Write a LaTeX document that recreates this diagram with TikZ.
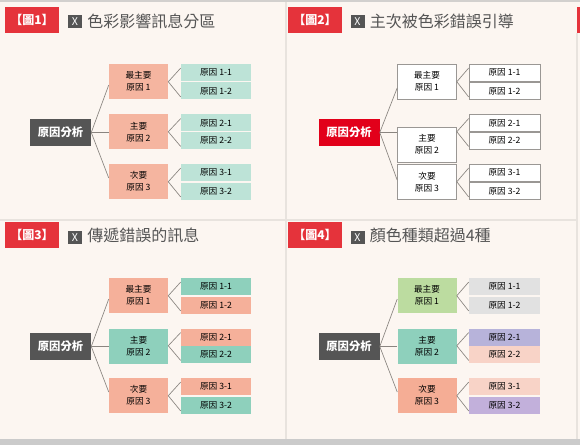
\documentclass[tikz,border=0pt]{standalone}
\usepackage{fontspec}
\setmainfont{Noto Sans CJK TC}
\usetikzlibrary{calc}
\definecolor{bg}{HTML}{FCF6F1}
\definecolor{topgray}{HTML}{D2D0CE}
\definecolor{botgray}{HTML}{CBCBCB}
\definecolor{divider}{HTML}{E8E3DE}
\definecolor{tagred}{HTML}{E5333B}
\definecolor{darkbox}{HTML}{555555}
\definecolor{titlegray}{HTML}{555555}
\definecolor{rootred}{HTML}{E2001A}
\definecolor{salmon}{HTML}{F5B5A0}
\definecolor{mint}{HTML}{BDE3D7}
\definecolor{mintedge}{HTML}{CDEAE1}
\definecolor{salmonB}{HTML}{F5B09A}
\definecolor{teal}{HTML}{8ED0BC}
\definecolor{green}{HTML}{BCDCA0}
\definecolor{salmonC}{HTML}{F5AD95}
\definecolor{lgray}{HTML}{E1E1E1}
\definecolor{lav}{HTML}{B7B3DA}
\definecolor{lpink}{HTML}{F8D3C7}
\definecolor{purple}{HTML}{C2B0DB}
\definecolor{linegray}{HTML}{8A8580}
\definecolor{boxborder}{HTML}{9A9794}
\begin{document}
\begin{tikzpicture}[x=0.75pt,y=-0.75pt,
  tagbox/.style={fill=tagred,text=white,inner sep=0pt,minimum width=54*0.75pt,minimum height=26*0.75pt,font=\fontsize{9}{10}\selectfont\bfseries},
  xbox/.style={fill=darkbox,text=white,inner sep=0pt,minimum width=14*0.75pt,minimum height=13*0.75pt,font=\fontsize{8}{9}\selectfont},
  titletext/.style={text=titlegray,inner sep=0pt,anchor=west,font=\fontsize{12}{13}\selectfont},
  rootbox/.style={fill=darkbox,text=white,inner sep=0pt,minimum width=61*0.75pt,minimum height=27*0.75pt,font=\fontsize{8.5}{9}\selectfont\bfseries},
  midbox/.style={inner sep=0pt,minimum width=59*0.75pt,minimum height=35*0.75pt,align=center,text=black,font=\fontsize{6.5}{9}\selectfont},
  leafbox/.style={inner sep=0pt,minimum width=70*0.75pt,minimum height=17*0.75pt,text=black,font=\fontsize{6.5}{8}\selectfont},
  wbox/.style={fill=white,draw=boxborder,line width=0.5pt},
  conn/.style={draw=linegray,line width=0.5pt}
]
\useasboundingbox (0,0) rectangle (580,445);
\fill[bg] (0,0) rectangle (580,445);
\fill[topgray] (0,0) rectangle (580,2);
\fill[botgray] (0,439) rectangle (580,445);
\draw[divider,line width=0.8pt] (286,2) -- (286,439);
\draw[divider,line width=0.8pt] (0,220) -- (577,220);
\draw[divider,line width=0.8pt] (577,33) -- (577,439);
\fill[tagred] (577,7) rectangle (580,33);

% ---------- Panel 1 ----------
\node[tagbox] (t1) at (32,20) {【圖1】};
\node[xbox] (x1) at (75,22) {X};
\node[titletext] (ti1) at (87,21.5) {色彩影響訊息分區};
\node[rootbox] (a-r) at (60.5,132.5) {原因分析};
\node[midbox,fill=salmon] (a-m1) at (138.5,81.5) {最主要\\原因 1};
\node[midbox,fill=salmon] (a-m2) at (138.5,132) {主要\\原因 2};
\node[midbox,fill=salmon] (a-m3) at (138.5,181.5) {次要\\原因 3};
\node[leafbox,fill=mint] (a-l11) at (216,72.5) {原因 1-1};
\node[leafbox,fill=mint] (a-l12) at (216,91) {原因 1-2};
\node[leafbox,fill=mint] (a-l21) at (216,123) {原因 2-1};
\node[leafbox,fill=mint] (a-l22) at (216,140.5) {原因 2-2};
\node[leafbox,fill=mint] (a-l31) at (216,172.5) {原因 3-1};
\node[leafbox,fill=mint] (a-l32) at (216,191) {原因 3-2};
\draw[conn] (a-r.east) -- ($(a-m1.west)+(0,3.5)$);
\draw[conn] (a-r.east) -- (a-m2.west |- a-r.east);
\draw[conn] (a-r.east) -- ($(a-m3.west)+(0,-3.5)$);
\foreach \m/\p/\q in {a-m1/a-l11/a-l12,a-m2/a-l21/a-l22,a-m3/a-l31/a-l32}{
  \coordinate (o) at ($(\m.east |- \p.south)!0.5!(\m.east |- \q.north)$);
  \draw[conn] ($(\p.west)+(0,-4.5)$) -- (o) -- ($(\q.west)+(0,6)$);
}

% ---------- Panel 2 ----------
\begin{scope}[shift={(288.5,0)}]
\node[tagbox] (t2) at (26.5,20) {【圖2】};
\node[xbox] (x2) at (69,22) {X};
\node[titletext] (ti2) at (81,21.5) {主次被色彩錯誤引導};
\node[rootbox,fill=rootred] (b-r) at (60.5,132.5) {原因分析};
\node[midbox,wbox] (b-m1) at (138.5,81.5) {最主要\\原因 1};
\node[midbox,wbox] (b-m2) at (138.5,144.5) {主要\\原因 2};
\node[midbox,wbox] (b-m3) at (138.5,182) {次要\\原因 3};
\node[leafbox,wbox,minimum width=71*0.75pt] (b-l11) at (216,72.5) {原因 1-1};
\node[leafbox,wbox,minimum width=71*0.75pt] (b-l12) at (216,91) {原因 1-2};
\node[leafbox,wbox,minimum width=71*0.75pt] (b-l21) at (216,123) {原因 2-1};
\node[leafbox,wbox,minimum width=71*0.75pt] (b-l22) at (216,140.5) {原因 2-2};
\node[leafbox,wbox,minimum width=71*0.75pt] (b-l31) at (216,172.5) {原因 3-1};
\node[leafbox,wbox,minimum width=71*0.75pt] (b-l32) at (216,191) {原因 3-2};
\draw[conn] (b-r.east) -- ($(b-m1.west)+(0,6.5)$);
\draw[conn] (b-r.east) -- (b-m2.west |- b-r.east);
\draw[conn] (b-r.east) -- ($(b-m3.west)+(0,-2)$);
\foreach \m/\p/\q in {b-m1/b-l11/b-l12,b-m2/b-l21/b-l22,b-m3/b-l31/b-l32}{
  \coordinate (o) at ($(\m.east |- \p.south)!0.5!(\m.east |- \q.north)$);
  \draw[conn] ($(\p.west)+(0,-4.5)$) -- (o) -- ($(\q.west)+(0,6)$);
}
\end{scope}

% ---------- Panel 3 ----------
\begin{scope}[shift={(0,214)}]
\node[tagbox] (t3) at (32,20.5) {【圖3】};
\node[xbox] (x3) at (75,23.5) {X};
\node[titletext] (ti3) at (87,21.5) {傳遞錯誤的訊息};
\node[rootbox] (c-r) at (60.5,132.5) {原因分析};
\node[midbox,fill=salmonB] (c-m1) at (138.5,81.5) {最主要\\原因 1};
\node[midbox,fill=teal] (c-m2) at (138.5,132) {主要\\原因 2};
\node[midbox,fill=salmonB] (c-m3) at (138.5,181.5) {次要\\原因 3};
\node[leafbox,fill=teal] (c-l11) at (216,72.5) {原因 1-1};
\node[leafbox,fill=salmonB] (c-l12) at (216,91) {原因 1-2};
\node[leafbox,fill=salmonB] (c-l21) at (216,123) {原因 2-1};
\node[leafbox,fill=teal] (c-l22) at (216,140.5) {原因 2-2};
\node[leafbox,fill=salmonB] (c-l31) at (216,172.5) {原因 3-1};
\node[leafbox,fill=teal] (c-l32) at (216,191) {原因 3-2};
\draw[conn] (c-r.east) -- ($(c-m1.west)+(0,3.5)$);
\draw[conn] (c-r.east) -- (c-m2.west |- c-r.east);
\draw[conn] (c-r.east) -- ($(c-m3.west)+(0,-3.5)$);
\foreach \m/\p/\q in {c-m1/c-l11/c-l12,c-m2/c-l21/c-l22,c-m3/c-l31/c-l32}{
  \coordinate (o) at ($(\m.east |- \p.south)!0.5!(\m.east |- \q.north)$);
  \draw[conn] ($(\p.west)+(0,-4.5)$) -- (o) -- ($(\q.west)+(0,6)$);
}
\end{scope}

% ---------- Panel 4 ----------
\begin{scope}[shift={(288.5,214)}]
\node[tagbox] (t4) at (26.5,20.5) {【圖4】};
\node[xbox] (x4) at (69,23.5) {X};
\node[titletext] (ti4) at (81,21.5) {顏色種類超過4種};
\node[rootbox] (d-r) at (60.5,132.5) {原因分析};
\node[midbox,fill=green] (d-m1) at (138.5,81.5) {最主要\\原因 1};
\node[midbox,fill=teal] (d-m2) at (138.5,132) {主要\\原因 2};
\node[midbox,fill=salmonC] (d-m3) at (138.5,181.5) {次要\\原因 3};
\node[leafbox,fill=lgray,minimum width=71*0.75pt] (d-l11) at (216,72.5) {原因 1-1};
\node[leafbox,fill=lgray,minimum width=71*0.75pt] (d-l12) at (216,91) {原因 1-2};
\node[leafbox,fill=lav,minimum width=71*0.75pt] (d-l21) at (216,123) {原因 2-1};
\node[leafbox,fill=lpink,minimum width=71*0.75pt] (d-l22) at (216,140.5) {原因 2-2};
\node[leafbox,fill=lpink,minimum width=71*0.75pt] (d-l31) at (216,172.5) {原因 3-1};
\node[leafbox,fill=purple,minimum width=71*0.75pt] (d-l32) at (216,191) {原因 3-2};
\draw[conn] (d-r.east) -- ($(d-m1.west)+(0,3.5)$);
\draw[conn] (d-r.east) -- (d-m2.west |- d-r.east);
\draw[conn] (d-r.east) -- ($(d-m3.west)+(0,-3.5)$);
\foreach \m/\p/\q in {d-m1/d-l11/d-l12,d-m2/d-l21/d-l22,d-m3/d-l31/d-l32}{
  \coordinate (o) at ($(\m.east |- \p.south)!0.5!(\m.east |- \q.north)$);
  \draw[conn] ($(\p.west)+(0,-4.5)$) -- (o) -- ($(\q.west)+(0,6)$);
}
\end{scope}
\end{tikzpicture}
\end{document}
